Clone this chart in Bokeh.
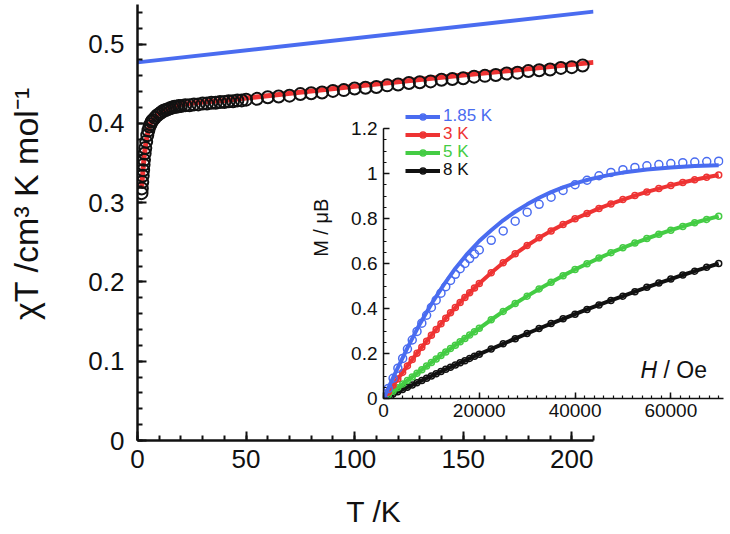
import math
from bokeh.plotting import figure
from bokeh.models import FixedTicker, NumeralTickFormatter, Label, Legend, LegendItem, Range1d
from bokeh.layouts import column
from bokeh.embed import file_html
from bokeh.resources import INLINE

FONT = "Liberation Sans"
BLUE = "#4a6cf0"
RED = "#ee3333"
GREEN = "#44cc44"
BLACK = "#111111"
NB = "\u00a0"

# ---------------- main panel data: chiT vs T ----------------
T_data = [1.85, 2.0, 2.2, 2.4, 2.6, 2.8, 3.0, 3.3, 3.6, 4.0, 4.5, 5.0, 5.5, 6.0, 6.5, 7.0,
          8.0, 9.0, 10, 11, 12, 13, 14, 15, 16, 17, 18, 19, 20, 22, 24, 26, 28, 30, 32,
          34, 36, 38, 40, 42, 44, 46, 48, 50, 55, 60, 65, 70, 75, 80, 85, 90, 95, 100,
          105, 110, 115, 120, 125, 130, 135, 140, 145, 150, 155, 160, 165, 170, 175,
          180, 185, 190, 195, 200, 205]
chiT_data = [0.312, 0.318, 0.326, 0.334, 0.341, 0.348, 0.354, 0.362, 0.369, 0.377, 0.385,
             0.391, 0.396, 0.399, 0.402, 0.404, 0.407, 0.410, 0.412, 0.414, 0.416, 0.417,
             0.418, 0.419, 0.420, 0.421, 0.421, 0.422, 0.422, 0.423, 0.423, 0.424, 0.424,
             0.425, 0.425, 0.426, 0.426, 0.427, 0.427, 0.428, 0.428, 0.429, 0.429, 0.430,
             0.431, 0.433, 0.434, 0.435, 0.437, 0.438, 0.439, 0.441, 0.442, 0.444, 0.445,
             0.446, 0.448, 0.449, 0.451, 0.452, 0.453, 0.455, 0.456, 0.457, 0.459, 0.460,
             0.461, 0.463, 0.464, 0.466, 0.467, 0.468, 0.470, 0.471, 0.473]
T_fit = [1.85, 2.5, 3, 3.5, 4, 5, 6, 7, 8, 10, 12, 15, 20, 30, 40, 50, 100, 150, 210]
chiT_fit = [0.318, 0.340, 0.356, 0.368, 0.378, 0.392, 0.400, 0.404, 0.408, 0.413, 0.416,
            0.420, 0.424, 0.427, 0.429, 0.432, 0.447, 0.461, 0.477]
T_blue = [0, 210]
chiT_blue = [0.477, 0.541]

# ---------------- inset data: M vs H ----------------
H_data = [0, 1000, 2000, 3000, 4000, 5000, 6000, 7000, 8000, 9000, 10000, 11000, 12000,
          13000, 14000, 15000, 16000, 17000, 18000, 19000, 20000, 22500, 25000, 27500,
          30000, 32500, 35000, 37500, 40000, 42500, 45000, 47500, 50000, 52500, 55000,
          57500, 60000, 62500, 65000, 67500, 70000]
M_185 = [0, 0.045, 0.09, 0.135, 0.178, 0.22, 0.26, 0.298, 0.335, 0.37, 0.405, 0.437, 0.468,
         0.497, 0.525, 0.552, 0.577, 0.6, 0.622, 0.642, 0.66, 0.703, 0.745, 0.788, 0.828,
         0.863, 0.895, 0.925, 0.95, 0.97, 0.99, 1.005, 1.017, 1.027, 1.034, 1.04, 1.044,
         1.048, 1.051, 1.053, 1.055]
M_3 = [0, 0.029, 0.058, 0.087, 0.116, 0.145, 0.173, 0.201, 0.228, 0.255, 0.281, 0.307,
       0.332, 0.357, 0.381, 0.404, 0.427, 0.449, 0.470, 0.491, 0.511, 0.559, 0.603, 0.643,
       0.680, 0.714, 0.745, 0.773, 0.799, 0.822, 0.845, 0.865, 0.884, 0.902, 0.918, 0.933,
       0.947, 0.960, 0.972, 0.983, 0.993]
M_5 = [0, 0.016, 0.032, 0.048, 0.064, 0.080, 0.096, 0.112, 0.128, 0.144, 0.160, 0.176,
       0.191, 0.207, 0.222, 0.237, 0.252, 0.267, 0.282, 0.297, 0.312, 0.350, 0.387, 0.422,
       0.455, 0.487, 0.517, 0.546, 0.573, 0.599, 0.624, 0.648, 0.670, 0.691, 0.711, 0.730,
       0.748, 0.765, 0.781, 0.796, 0.810]
M_8 = [0, 0.010, 0.020, 0.030, 0.040, 0.050, 0.060, 0.070, 0.080, 0.090, 0.100, 0.110,
       0.120, 0.130, 0.139, 0.149, 0.159, 0.168, 0.178, 0.188, 0.197, 0.220, 0.243, 0.266,
       0.289, 0.311, 0.333, 0.354, 0.375, 0.396, 0.416, 0.436, 0.455, 0.475, 0.494, 0.513,
       0.531, 0.549, 0.566, 0.583, 0.600]
H_fit185 = [0, 2500, 5000, 7500, 10000, 12500, 15000, 17500, 20000, 22500, 25000, 27500,
            30000, 32500, 35000, 37500, 40000, 42500, 45000, 47500, 50000, 55000, 60000,
            65000, 70000]
M_fit185 = [0, 0.115, 0.225, 0.328, 0.42, 0.503, 0.578, 0.643, 0.70, 0.748, 0.792, 0.830,
            0.863, 0.892, 0.917, 0.938, 0.956, 0.971, 0.984, 0.995, 1.004, 1.018, 1.027,
            1.033, 1.037]

series_labels = ["1.85 K", "3 K", "5 K", "8 K"]

main_xticks = [0, 50, 100, 150, 200]
main_yticks = [0, 0.1, 0.2, 0.3, 0.4, 0.5]
inset_xticks = [0, 20000, 40000, 60000]
inset_yticks = [0, 0.2, 0.4, 0.6, 0.8, 1.0, 1.2]

# ---------------- main figure ----------------
p_main = figure(width=722, height=530, x_range=Range1d(0, 210), y_range=Range1d(0, 0.55),
                output_backend="svg", toolbar_location=None,
                min_border_left=137, min_border_right=129, min_border_top=4,
                min_border_bottom=90, outline_line_color=None)
p_main.grid.visible = False
p_main.frame_align = False

p_main.xaxis.ticker = FixedTicker(ticks=main_xticks, minor_ticks=list(range(0, 211, 10)))
p_main.yaxis.ticker = FixedTicker(ticks=main_yticks,
                                  minor_ticks=[round(i * 0.02, 2) for i in range(0, 28)])
p_main.yaxis.formatter = NumeralTickFormatter(format="0.[0]")
for ax in (p_main.xaxis[0], p_main.yaxis[0]):
    ax.axis_line_width = 2.5
    ax.axis_line_color = BLACK
    ax.major_tick_in = 9
    ax.major_tick_out = 0
    ax.minor_tick_in = 5
    ax.minor_tick_out = 0
    ax.major_tick_line_width = 2
    ax.minor_tick_line_width = 2
    ax.major_tick_line_color = BLACK
    ax.minor_tick_line_color = BLACK
    ax.major_label_text_font = FONT
    ax.major_label_text_font_size = "26px"
    ax.major_label_text_color = BLACK
    ax.axis_label_text_font = FONT
    ax.axis_label_text_font_style = "normal"
    ax.axis_label_text_color = BLACK
p_main.yaxis.major_label_standoff = 13
p_main.xaxis.major_label_standoff = 9
p_main.yaxis.axis_label = NB * 4 + "χT /cm³ K mol⁻¹"
p_main.yaxis.axis_label_text_font_size = "34px"
p_main.yaxis.axis_label_standoff = 40
p_main.xaxis.axis_label = NB * 2 + "T /K"
p_main.xaxis.axis_label_text_font_size = "30px"
p_main.xaxis.axis_label_standoff = 24

p_main.line(T_blue, chiT_blue, line_color=BLUE, line_width=4)
p_main.line(T_fit, chiT_fit, line_color=RED, line_width=5)
p_main.scatter(T_data, chiT_data, marker="circle", size=12, fill_color=None,
               line_color=BLACK, line_width=2)

def lab(fig, x, y, text, size, style="normal", angle=0.0, color=BLACK):
    fig.add_layout(Label(x=x, y=y, x_units="screen", y_units="screen", text=text,
                         angle=angle, text_font=FONT, text_font_size=size,
                         text_font_style=style, text_color=color,
                         text_align="left", text_baseline="middle"))

# ---------------- inset figure ----------------
p_in = figure(width=430, height=329, x_range=Range1d(0, 71000), y_range=Range1d(0, 1.32),
              output_backend="svg", toolbar_location=None,
              min_border_left=85, min_border_right=5, min_border_top=0,
              min_border_bottom=32, outline_line_color=None,
              background_fill_color=None, border_fill_color=None)
p_in.grid.visible = False
p_in.frame_align = False
p_in.styles = {"position": "absolute", "left": "298px", "top": "101px",
               "width": "430px", "height": "329px"}

p_in.xaxis.ticker = FixedTicker(ticks=inset_xticks, minor_ticks=list(range(0, 71000, 2000)))
p_in.yaxis.ticker = FixedTicker(ticks=inset_yticks,
                                minor_ticks=[round(i * 0.05, 2) for i in range(0, 25)])
p_in.yaxis.bounds = (0, 1.2)
p_in.xaxis.formatter = NumeralTickFormatter(format="0")
p_in.yaxis.formatter = NumeralTickFormatter(format="0.[0]")
for ax in (p_in.xaxis[0], p_in.yaxis[0]):
    ax.axis_line_width = 1.5
    ax.axis_line_color = BLACK
    ax.major_tick_in = 6
    ax.major_tick_out = 0
    ax.minor_tick_in = 3
    ax.minor_tick_out = 0
    ax.major_tick_line_width = 1.5
    ax.minor_tick_line_width = 1.2
    ax.major_tick_line_color = BLACK
    ax.minor_tick_line_color = BLACK
    ax.major_label_text_font = FONT
    ax.major_label_text_font_size = "19px"
    ax.major_label_text_color = BLACK
p_in.yaxis.major_label_standoff = 6
p_in.xaxis.major_label_standoff = 5
p_in.yaxis.axis_label = NB * 8 + "M / μB"
p_in.yaxis.axis_label_text_font = FONT
p_in.yaxis.axis_label_text_font_size = "20px"
p_in.yaxis.axis_label_text_font_style = "normal"
p_in.yaxis.axis_label_text_color = BLACK
p_in.yaxis.axis_label_standoff = 16

renderers = {}
specs = [("8 K", H_data, M_8, H_data, M_8, BLACK, 6),
         ("5 K", H_data, M_5, H_data, M_5, GREEN, 6),
         ("3 K", H_data, M_3, H_data, M_3, RED, 6),
         ("1.85 K", H_fit185, M_fit185, H_data, M_185, BLUE, 8)]
for name, hf, mf, hd, md, col, sz in specs:
    ln = p_in.line(hf, mf, line_color=col, line_width=4)
    sc = p_in.scatter(hd, md, marker="circle", size=sz, fill_color=None,
                      line_color=col, line_width=1.5)
    renderers[name] = (ln, sc, col)

for i, name in enumerate(series_labels):
    ln, sc, col = renderers[name]
    leg = Legend(items=[LegendItem(label=name, renderers=[ln, sc])],
                 location=(22, 272 - 18 * i), glyph_width=35, glyph_height=15,
                 label_height=15, label_standoff=3, padding=0, margin=0, spacing=0,
                 border_line_color=None, background_fill_alpha=0,
                 label_text_font=FONT, label_text_font_size="17px",
                 label_text_color=col)
    p_in.add_layout(leg)

lab(p_in, 257, 29, "H", "23px", "italic")
lab(p_in, 280, 29, "/ Oe", "23px", "normal")

p = column(p_main, p_in)
p.styles = {"position": "relative"}
open("out.html", "w").write(file_html(p, INLINE))
